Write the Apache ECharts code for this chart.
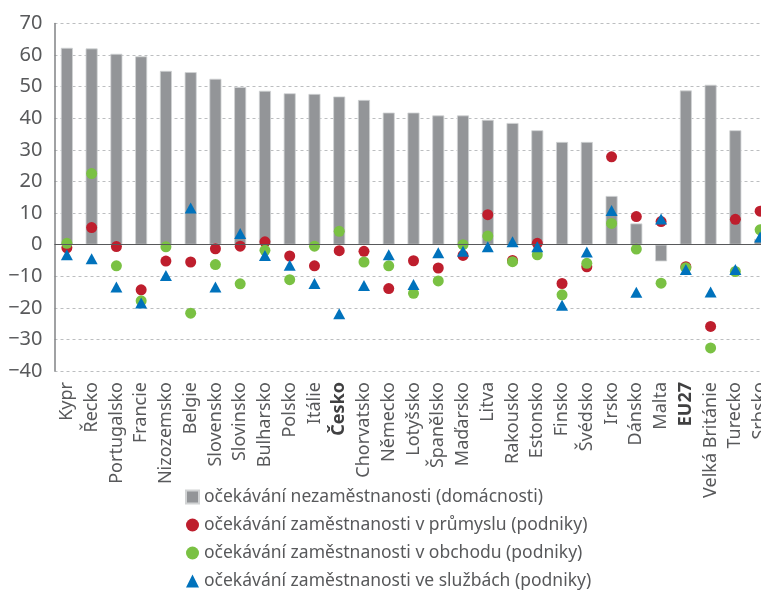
<!DOCTYPE html>
<html><head><meta charset="utf-8">
<script src="https://cdn.jsdelivr.net/npm/echarts@6/dist/echarts.min.js"></script>
<style>html,body{margin:0;padding:0;background:#fff}#c{width:761px;height:590px}</style>
</head><body><div id="c"></div>
<script>
var categories = ["Kypr","Řecko","Portugalsko","Francie","Nizozemsko","Belgie","Slovensko","Slovinsko","Bulharsko","Polsko","Itálie","Česko","Chorvatsko","Německo","Lotyšsko","Španělsko","Maďarsko","Litva","Rakousko","Estonsko","Finsko","Švédsko","Irsko","Dánsko","Malta","EU27","Velká Británie","Turecko","Srbsko"];
var boldCats = ["Česko","EU27"];
var unemployment = [62.3,62.1,60.4,59.6,55.0,54.6,52.5,49.9,48.7,47.9,47.7,46.9,45.8,41.8,41.8,40.9,40.9,39.5,38.5,36.2,32.5,32.5,15.4,6.7,-5.3,48.8,50.6,36.2,1.8];
var industry = [-1.0,5.4,-0.6,-14.3,-5.2,-5.5,-1.3,-0.5,0.9,-3.6,-6.7,-1.9,-2.1,-13.9,-5.1,-7.4,-3.4,9.5,-5.0,0.4,-12.3,-7.0,27.8,8.9,7.3,-7.0,-25.9,8.0,10.6];
var trade = [0.4,22.5,-6.7,-17.8,-0.7,-21.7,-6.3,-12.4,-1.8,-11.1,-0.5,4.2,-5.5,-6.7,-15.4,-11.5,0.0,2.7,-5.4,-3.2,-15.9,-5.9,6.7,-1.4,-12.2,-7.3,-32.7,-8.5,4.7];
var services = [-3.2,-4.5,-13.4,-18.5,-9.8,11.6,-13.4,3.5,-3.4,-6.5,-12.3,-21.9,-12.9,-3.2,-12.6,-2.6,-2.1,-0.7,0.9,-0.7,-19.2,-2.3,10.8,-15.1,8.1,-7.9,-15.0,-7.9,2.4];
var seriesNames = ["očekávání nezaměstnanosti (domácnosti)","očekávání zaměstnanosti v průmyslu (podniky)","očekávání zaměstnanosti v obchodu (podniky)","očekávání zaměstnanosti ve službách (podniky)"];
var yTicks = {min:-40, max:70, interval:10};

var FONT = "Noto Sans";
var chart = echarts.init(document.getElementById('c'), null, {renderer:'canvas'});
chart.setOption({
  animation:false,
  textStyle:{fontFamily:FONT},
  grid:{left:54.5, top:23.5, width:718, height:347.5, containLabel:false, outerBoundsMode:'none'},
  legend:{
    orient:'vertical', left:185, top:488, itemWidth:13, itemHeight:13, itemGap:10, padding:0,
    textStyle:{fontFamily:FONT, fontSize:17.5, color:'#58595b'},
    data:[
      {name:seriesNames[0], icon:'rect'},
      {name:seriesNames[1], icon:'circle'},
      {name:seriesNames[2], icon:'circle'},
      {name:seriesNames[3], icon:'triangle'}
    ]
  },
  xAxis:{
    type:'category', data:categories, position:'bottom',
    axisLine:{show:false, onZero:false}, axisTick:{show:false},
    axisLabel:{rotate:90, interval:0, margin:11, fontSize:18, color:'#58595b', fontFamily:FONT,
      formatter:function(v){ return boldCats.indexOf(v)>=0 ? '{b|'+v+'}' : v; },
      rich:{b:{fontWeight:'bold', fontSize:18, color:'#404041', fontFamily:FONT}}
    }
  },
  yAxis:{
    type:'value', min:yTicks.min, max:yTicks.max, interval:yTicks.interval,
    axisLine:{show:true, lineStyle:{color:'#808285', width:1.5}},
    axisTick:{show:false},
    axisLabel:{fontSize:20, color:'#58595b', margin:12, fontFamily:FONT,
      formatter:function(v){ return String(v).replace('-','\u2212'); }},
    splitLine:{show:true, lineStyle:{color:'#bcbec0', type:[3,3], width:1}}
  },
  series:[
    {name:seriesNames[0], type:'bar', data:unemployment, barWidth:12,
     itemStyle:{color:'#939598', borderColor:'#d1d3d4', borderWidth:0.8},
     markLine:{silent:true, symbol:'none', label:{show:false},
       lineStyle:{color:'#58595b', type:'solid', width:1.2}, data:[{yAxis:0}]}},
    {name:seriesNames[1], type:'scatter', data:industry, symbol:'circle', symbolSize:11, z:3,
     itemStyle:{color:'#be1e2d', opacity:1}},
    {name:seriesNames[2], type:'scatter', data:trade, symbol:'circle', symbolSize:11, z:4,
     itemStyle:{color:'#7ac143', opacity:1}},
    {name:seriesNames[3], type:'scatter', data:services, symbol:'triangle', symbolSize:[12,11], z:5,
     itemStyle:{color:'#0072bc', opacity:1}}
  ]
});
</script></body></html>
